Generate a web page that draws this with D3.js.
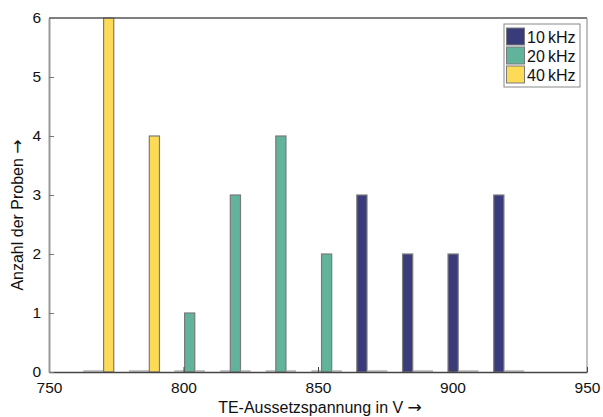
<!DOCTYPE html>
<html>
<head>
<meta charset="utf-8">
<script src="https://cdn.jsdelivr.net/npm/d3@7"></script>
<style>
  html, body { margin: 0; padding: 0; background: #fff; }
  svg { display: block; font-family: "Liberation Sans", Arial, Helvetica, sans-serif; }
</style>
</head>
<body>
<svg id="chart" width="603" height="417"></svg>
<script>
// Histogram bin centres (TE inception voltage, V)
const binCenters = [768.4, 785.4, 802.3, 819.3, 836.2, 853.2, 870.1, 887.1, 904.0, 921.0];

// Sample counts per bin for each test frequency
const counts10k = [0, 0, 0, 0, 0, 0, 3, 2, 2, 3];
const counts20k = [0, 0, 1, 3, 4, 2, 0, 0, 0, 0];
const counts40k = [6, 4, 0, 0, 0, 0, 0, 0, 0, 0];

const seriesNames = ["10\u2009kHz", "20\u2009kHz", "40\u2009kHz"];
const seriesColors = ["#3a3b7b", "#62b39c", "#fddb57"];

const xTicks = [750, 800, 850, 900, 950];
const yTicks = [0, 1, 2, 3, 4, 5, 6];

const xLabel = "TE-Aussetzspannung in V";
const yLabel = "Anzahl der Proben";
const arrow = "\u2192";

const series = [counts10k, counts20k, counts40k].map((vals, i) => ({
  name: seriesNames[i], color: seriesColors[i], values: vals
}));

const svg = d3.select("#chart");
const plotLeft = 49, plotRight = 587, plotTop = 18, plotBottom = 372;

const x = d3.scaleLinear().domain([750, 950]).range([plotLeft, plotRight]);
const y = d3.scaleLinear().domain([0, 6]).range([plotBottom, plotTop]);

// grouped bars: group occupies 2/3 of the bin spacing, bars touch each other
const binStep = binCenters[1] - binCenters[0];
const groupWidth = binStep * (3 / 4.5);
const barWidth = groupWidth / series.length;

const bars = svg.append("g");
series.forEach((s, si) => {
  const offset = (si - (series.length - 1) / 2) * barWidth;
  const g = bars.append("g");
  s.values.forEach((v, bi) => {
    const x0 = x(binCenters[bi] + offset - barWidth / 2);
    const x1 = x(binCenters[bi] + offset + barWidth / 2);
    if (v > 0) {
      g.append("rect")
        .attr("x", x0)
        .attr("y", y(v))
        .attr("width", x1 - x0)
        .attr("height", y(0) - y(v))
        .attr("fill", s.color)
        .attr("stroke", "#7a7a7a")
        .attr("stroke-width", 1.2);
    } else {
      g.append("line")
        .attr("x1", x0).attr("x2", x1)
        .attr("y1", y(0) - 1).attr("y2", y(0) - 1)
        .attr("stroke", "#b0b0b0")
        .attr("stroke-width", 1.5);
    }
  });
});

// frame
svg.append("line").attr("x1", plotLeft).attr("x2", plotRight).attr("y1", plotTop).attr("y2", plotTop)
  .attr("stroke", "#555").attr("stroke-width", 1.3);
svg.append("line").attr("x1", plotRight).attr("x2", plotRight).attr("y1", plotTop).attr("y2", plotBottom)
  .attr("stroke", "#a0a0a0").attr("stroke-width", 1.3);

// axes
const xAxis = d3.axisBottom(x).tickValues(xTicks).tickFormat(d3.format("d"))
  .tickSizeInner(-5).tickSizeOuter(0).tickPadding(10);
const gx = svg.append("g").attr("transform", `translate(0,${plotBottom})`).call(xAxis);
gx.select(".domain").attr("stroke", "#444").attr("stroke-width", 1.3);
gx.selectAll(".tick line").attr("stroke", "#444");
gx.selectAll(".tick text").attr("font-size", 15.5).attr("fill", "#111")
  .attr("font-family", "Liberation Sans, Arial, sans-serif");

const yAxis = d3.axisLeft(y).tickValues(yTicks).tickFormat(d3.format("d"))
  .tickSizeInner(-5).tickSizeOuter(0).tickPadding(8);
const gy = svg.append("g").attr("transform", `translate(${plotLeft},0)`).call(yAxis);
gy.select(".domain").attr("stroke", "#999").attr("stroke-width", 2);
gy.selectAll(".tick line").attr("stroke", "#777");
gy.selectAll(".tick text").attr("font-size", 15.5).attr("fill", "#111")
  .attr("font-family", "Liberation Sans, Arial, sans-serif");

// axis titles, each followed by a direction arrow
function axisTitle(sel, label) {
  sel.append("tspan").text(label + " ");
  sel.append("tspan").attr("font-family", "DejaVu Sans").attr("font-size", 17).text(arrow);
}

svg.append("text")
  .attr("x", 320)
  .attr("y", 413)
  .attr("text-anchor", "middle")
  .attr("font-size", 16)
  .attr("fill", "#111")
  .call(axisTitle, xLabel);

svg.append("text")
  .attr("transform", "translate(23,215) rotate(-90)")
  .attr("text-anchor", "middle")
  .attr("font-size", 16)
  .attr("fill", "#111")
  .call(axisTitle, yLabel);

// legend
const lg = svg.append("g").attr("transform", "translate(504,24)");
lg.append("rect").attr("x", 0).attr("y", 0).attr("width", 76).attr("height", 63)
  .attr("fill", "#fff").attr("stroke", "#888").attr("stroke-width", 1);
series.forEach((s, i) => {
  const row = lg.append("g").attr("transform", `translate(2,${4 + i * 19})`);
  row.append("rect").attr("x", 0.5).attr("y", 0).attr("width", 18).attr("height", 17)
    .attr("fill", s.color).attr("stroke", "#7a7a7a").attr("stroke-width", 1);
  row.append("text").attr("x", 21).attr("y", 14.5)
    .attr("font-size", 16).attr("fill", "#111")
    .text(s.name);
});
</script>
</body>
</html>
